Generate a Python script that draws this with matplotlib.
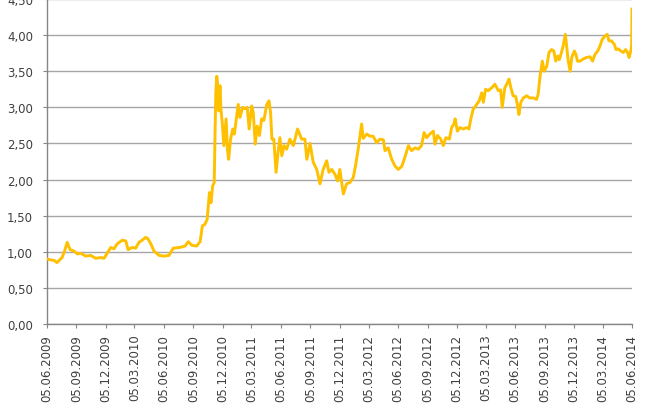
import matplotlib
matplotlib.use("Agg")
import matplotlib.pyplot as plt
import matplotlib.dates as mdates
from matplotlib.ticker import FuncFormatter
import numpy as np

start = np.datetime64("2009-06-05")

# days since 05.06.2009 and value
days = [0, 9, 22, 31, 47, 55, 63, 72, 84, 95, 105, 121, 136, 152, 168, 178,
        188, 199, 209, 219, 235, 246, 253, 266, 277, 287, 297, 308, 315, 324,
        334, 350, 365, 381, 394, 415, 431, 441, 452, 467, 478, 485, 493, 500,
        507, 512, 517, 522, 524, 527, 530, 534, 536, 540, 543, 547, 552, 559,
        563, 567, 573, 580, 585, 592, 597, 602, 611, 618, 625, 631, 639, 644,
        650, 656, 663, 670, 677, 686, 693, 698, 702, 708, 715, 721, 727, 733,
        740, 748, 758, 769, 782, 795, 805, 811, 821, 831, 842, 852, 862, 873,
        880, 889, 899, 907, 914, 925, 935, 946, 956, 963, 972, 977, 982, 987,
        998, 1008, 1018, 1029, 1039, 1050, 1055, 1065, 1076, 1086, 1096, 1107,
        1112, 1120, 1128, 1138, 1149, 1159, 1169, 1177, 1185, 1195, 1206, 1211,
        1219, 1229, 1237, 1245, 1256, 1263, 1270, 1274, 1281, 1289, 1299, 1310,
        1317, 1323, 1330, 1341, 1349, 1357, 1362, 1369, 1377, 1388, 1398, 1409,
        1416, 1421, 1429, 1437, 1442, 1448, 1455, 1463, 1469, 1473, 1479, 1487,
        1497, 1507, 1518, 1528, 1533, 1539, 1546, 1552, 1560, 1567, 1575, 1582,
        1588, 1594, 1599, 1604, 1611, 1618, 1622, 1627, 1633, 1638, 1646, 1651,
        1656, 1664, 1674, 1684, 1695, 1703, 1710, 1719, 1726, 1733, 1742, 1749,
        1754, 1762, 1771, 1776, 1783, 1791, 1799, 1806, 1812, 1817, 1823, 1825,
        1826]
values = [0.90, 0.89, 0.88, 0.85, 0.92, 1.01, 1.13, 1.03, 1.01, 0.97, 0.98, 0.94,
          0.95, 0.91, 0.92, 0.91, 0.98, 1.06, 1.04, 1.11, 1.16, 1.15, 1.03, 1.06,
          1.05, 1.13, 1.16, 1.20, 1.18, 1.11, 1.01, 0.95, 0.94, 0.95, 1.05, 1.06,
          1.08, 1.14, 1.09, 1.08, 1.14, 1.36, 1.38, 1.45, 1.82, 1.68, 1.91, 1.96,
          2.51, 3.20, 3.43, 3.25, 2.95, 3.30, 2.97, 2.79, 2.47, 2.84, 2.42, 2.28,
          2.56, 2.70, 2.63, 2.88, 3.04, 2.86, 3.00, 2.98, 3.00, 2.70, 3.02, 2.92,
          2.49, 2.74, 2.61, 2.84, 2.82, 3.04, 3.09, 2.92, 2.56, 2.56, 2.10, 2.37,
          2.58, 2.33, 2.47, 2.42, 2.56, 2.47, 2.70, 2.56, 2.56, 2.28, 2.50, 2.24,
          2.14, 1.94, 2.14, 2.26, 2.10, 2.14, 2.07, 1.98, 2.14, 1.80, 1.94, 1.96,
          2.03, 2.19, 2.44, 2.61, 2.77, 2.57, 2.63, 2.60, 2.60, 2.51, 2.56, 2.55,
          2.40, 2.44, 2.28, 2.19, 2.14, 2.18, 2.24, 2.35, 2.47, 2.40, 2.44, 2.42,
          2.47, 2.65, 2.58, 2.63, 2.67, 2.49, 2.61, 2.56, 2.47, 2.58, 2.56, 2.72,
          2.77, 2.84, 2.67, 2.72, 2.70, 2.72, 2.70, 2.84, 2.97, 3.04, 3.09, 3.20,
          3.07, 3.25, 3.23, 3.27, 3.32, 3.23, 3.24, 3.00, 3.27, 3.34, 3.39, 3.27,
          3.16, 3.15, 3.02, 2.90, 3.07, 3.13, 3.16, 3.13, 3.13, 3.11, 3.18, 3.43,
          3.64, 3.50, 3.57, 3.76, 3.80, 3.78, 3.64, 3.71, 3.66, 3.73, 3.85, 4.01,
          3.85, 3.64, 3.50, 3.69, 3.78, 3.73, 3.64, 3.64, 3.67, 3.69, 3.70, 3.64,
          3.73, 3.78, 3.85, 3.94, 3.99, 4.01, 3.92, 3.92, 3.87, 3.80, 3.81, 3.78,
          3.76, 3.80, 3.76, 3.69, 3.80, 3.87, 4.36]

tick_labels = ["05.06.2009", "05.09.2009", "05.12.2009", "05.03.2010", "05.06.2010",
               "05.09.2010", "05.12.2010", "05.03.2011", "05.06.2011", "05.09.2011",
               "05.12.2011", "05.03.2012", "05.06.2012", "05.09.2012", "05.12.2012",
               "05.03.2013", "05.06.2013", "05.09.2013", "05.12.2013", "05.03.2014",
               "05.06.2014"]

dates = (start + np.array(days).astype("timedelta64[D]")).astype("datetime64[D]").astype(object)
tick_dates = [np.datetime64(l[6:] + "-" + l[3:5] + "-" + l[0:2]).astype(object) for l in tick_labels]

fig = plt.figure(figsize=(6.5, 4.1), dpi=100)
ax = fig.add_axes([47 / 650, 1 - 325 / 410, 585 / 650, 325 / 410])

ax.plot(dates, values, color="#FFC000", linewidth=2.1, solid_joinstyle="round", zorder=3)

ax.set_ylim(0, 4.5)
ax.set_yticks(np.arange(0, 4.51, 0.5))
ax.yaxis.set_major_formatter(FuncFormatter(lambda v, p: f"{v:.2f}".replace(".", ",")))
ax.set_xlim(tick_dates[0], tick_dates[-1])
ax.set_xticks(mdates.date2num(tick_dates))
ax.set_xticklabels(tick_labels, rotation=90, va="top", ha="center")

ax.grid(axis="y", color="#A6A6A6", linewidth=1.0)
ax.set_axisbelow(True)
for s in ["top", "right"]:
    ax.spines[s].set_visible(False)
for s in ["left", "bottom"]:
    ax.spines[s].set_color("#868686")
    ax.spines[s].set_linewidth(1.0)

ax.tick_params(axis="both", colors="#868686", labelcolor="#404040", labelsize=8.5, length=3)
ax.tick_params(axis="y", pad=7)
ax.tick_params(axis="x", pad=4)

fig.savefig("out.png", dpi=100)
